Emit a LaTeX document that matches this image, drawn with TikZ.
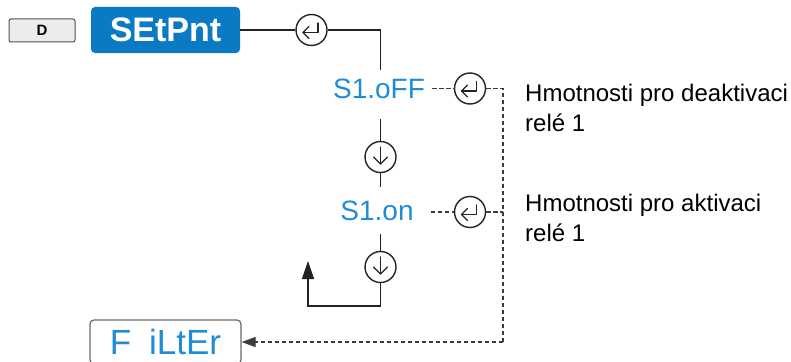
\documentclass[tikz,border=0pt]{standalone}
\usepackage{fontspec}
\setmainfont{Liberation Sans}
\usetikzlibrary{arrows.meta}
\definecolor{segblue}{RGB}{30,140,215}
\definecolor{boxblue}{RGB}{10,122,196}
\definecolor{linegray}{RGB}{35,35,35}
\definecolor{dashgray}{RGB}{60,60,60}
\definecolor{keygray}{RGB}{236,236,236}
\definecolor{keyedge}{RGB}{80,80,80}
\definecolor{filtedge}{RGB}{105,105,105}
\tikzset{
  entersym/.pic={
    \draw[glyph] (6.5,-7) -- (6.5,2.5) -- (-8.5,2.5);
    \draw[glyph] (-2.5,-3.5) -- (-8.5,2.5) -- (-2.5,8.5);
  },
  downsym/.pic={
    \draw[glyph] (0,-10) -- (0,7);
    \draw[glyph] (-7,0) -- (0,7) -- (7,0);
  }
}
\begin{document}
\begin{tikzpicture}[x=1pt,y=-1pt,
  conn/.style={line width=1.3pt, draw=linegray},
  dconn/.style={line width=1.2pt, draw=dashgray, dash pattern=on 4.5pt off 2.5pt},
  circ/.style={circle, draw=linegray, line width=1.4pt, minimum size=31pt, inner sep=0pt, fill=white},
  seg/.style={text=segblue, font=\fontsize{28}{28}\selectfont, inner sep=4pt},
  lbl/.style={anchor=base west, inner sep=0pt, font=\fontsize{24}{30}\selectfont, text=black},
  glyph/.style={line width=1.3pt, draw=linegray, line cap=round, line join=round}
]
\useasboundingbox (0,0) rectangle (791,361);

% top row
\node[draw=keyedge, fill=keygray, rounded corners=2pt, minimum width=66pt, minimum height=23pt,
      line width=1pt, inner sep=0pt, font=\bfseries\fontsize{15}{15}\selectfont] (key) at (42,30.5) {D};
\node[fill=boxblue, rounded corners=4pt, minimum width=149pt, minimum height=46pt, inner sep=0pt,
      text=white, font=\bfseries\fontsize{34}{34}\selectfont] (setp) at (165.5,30) {SEtPnt\hspace{8pt}};
\node[circ] (e1) at (311.5,30) {};
\pic at (e1) {entersym};
\coordinate (c1) at (380.5,70);
\draw[conn] (setp.east) -- (e1.west);
\draw[conn] (e1.east) -| (c1);

% S1.oFF
\node[seg] (s1off) at (379,88.5) {S1.oFF};
\node[circ] (e2) at (470,88.5) {};
\pic at (e2) {entersym};
\coordinate (rt) at (503,88.5);
\coordinate (rb) at (503,342);
\draw[dconn] ([xshift=3pt]s1off.east) -- (e2.west);
\draw[dconn] (e2.east) -- (rt) -- (rb);

% first down
\coordinate (c2) at (380.5,119);
\coordinate (c3) at (380.5,187);
\node[circ] (d1) at (380.5,157) {};
\pic at (d1) {downsym};
\draw[conn] (c2) -- (d1.north);
\draw[conn] (d1.south) -- (c3);

% S1.on
\node[seg] (s1on) at (377,211) {S1.on};
\node[circ] (e3) at (470,212) {};
\pic at (e3) {entersym};
\draw[dconn] ([xshift=13pt]s1on.east |- e3) -- (e3.west);
\draw[dconn] (e3.east) -- (e3.east -| rt);

% second down + loop
\coordinate (c4) at (380.5,234);
\node[circ] (d2) at (380.5,267) {};
\pic at (d2) {downsym};
\draw[conn] (c4) -- (d2.north);
\coordinate (lp) at (308,306);
\coordinate (la) at (308,261);
\draw[conn, -{Triangle[length=18pt,width=12pt]}] (d2.south) |- (lp) -- (la);

% FILTER
\node[draw=filtedge, rounded corners=4pt, line width=1.2pt, minimum width=151pt, minimum height=44pt,
      inner sep=0pt, text=segblue, font=\fontsize{35}{35}\selectfont] (filt) at (165.5,342) {F\hspace{8pt} iLtEr\hspace{2pt}};
\draw[dconn, -{Triangle[length=14pt,width=10pt]}] (rb) -- (filt.east);

% labels
\node[lbl] (l1a) at (525,101.7) {Hmotnosti pro deaktivaci};
\node[lbl] (l1b) at (525,131.7) {relé 1};
\node[lbl] (l2a) at (525,211.7) {Hmotnosti pro aktivaci};
\node[lbl] (l2b) at (525,241.7) {relé 1};
\end{tikzpicture}
\end{document}
